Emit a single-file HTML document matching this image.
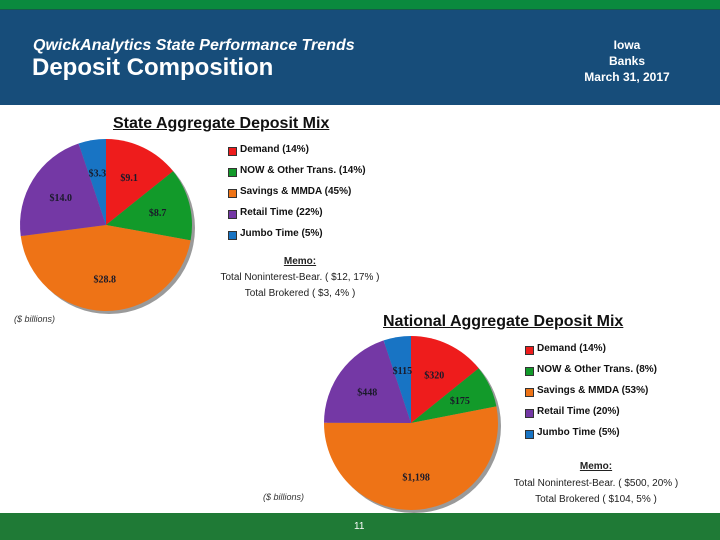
<!DOCTYPE html>
<html><head><meta charset="utf-8">
<style>
body{margin:0;width:720px;height:540px;overflow:hidden;background:#fff;font-family:"Liberation Sans",sans-serif;position:relative}
.abs{position:absolute;white-space:nowrap}
.sw{position:absolute;width:9px;height:9px;border:1px solid #333;box-sizing:border-box}
.lg{position:absolute;font-size:10px;font-weight:bold;color:#111;white-space:nowrap}
.memo{position:absolute;font-size:10px;color:#222;text-align:center;white-space:nowrap}
</style></head><body>
<div class="abs" style="left:0;top:0;width:720px;height:9px;background:#0a8a3e"></div>
<div class="abs" style="left:0;top:9px;width:720px;height:95px;background:#174d7a;border-top:1px solid #155a4a"></div>
<div class="abs" style="left:33px;top:37px;font-size:16px;font-style:italic;font-weight:bold;color:#fff">QwickAnalytics State Performance Trends</div>
<div class="abs" style="left:32px;top:54px;font-size:24px;font-weight:bold;color:#fff">Deposit Composition</div>
<div class="abs" style="left:567px;width:120px;text-align:center;top:37px;font-size:12px;font-weight:bold;color:#fff;line-height:16px">Iowa<br>Banks</div>
<div class="abs" style="left:567px;width:120px;text-align:center;top:70px;font-size:12px;font-weight:bold;color:#fff">March 31, 2017</div>

<div class="abs" style="left:113px;top:115px;font-size:16px;font-weight:bold;text-decoration:underline;color:#111">State Aggregate Deposit Mix</div>
<div class="abs" style="left:383px;top:313px;font-size:16px;font-weight:bold;text-decoration:underline;color:#111">National Aggregate Deposit Mix</div>

<svg id="pies" width="720" height="540" style="position:absolute;left:0;top:0"></svg>

<div id="legends"></div>

<div class="memo" style="left:200px;width:200px;top:254px;line-height:16px"><b style="text-decoration:underline">Memo:</b><br>Total Noninterest-Bear. ( $12, 17% )<br>Total Brokered ( $3, 4% )</div>
<div class="memo" style="left:496px;width:200px;top:459px;line-height:16.5px"><b style="text-decoration:underline">Memo:</b><br>Total Noninterest-Bear. ( $500, 20% )<br>Total Brokered ( $104, 5% )</div>
<div class="abs" style="left:14px;top:314px;font-size:9px;font-style:italic;color:#333">($ billions)</div>
<div class="abs" style="left:263px;top:492px;font-size:9px;font-style:italic;color:#333">($ billions)</div>

<div class="abs" style="left:0;top:513px;width:720px;height:27px;background:#1f7a36"></div>
<div class="abs" style="left:354px;top:521px;font-size:10px;color:#fff">11</div>

<script>
const categories = ["Demand", "NOW & Other Trans.", "Savings & MMDA", "Retail Time", "Jumbo Time"];
const stateValues = [9.1, 8.7, 28.8, 14.0, 3.3];
const stateLabels = ["$9.1", "$8.7", "$28.8", "$14.0", "$3.3"];
const statePct = ["14%", "14%", "45%", "22%", "5%"];
const nationalValues = [320, 175, 1198, 448, 115];
const nationalLabels = ["$320", "$175", "$1,198", "$448", "$115"];
const nationalPct = ["14%", "8%", "53%", "20%", "5%"];
const colors = ["#ee1c1c", "#129a2a", "#ee7316", "#7438a5", "#1874c4"];

const NS = "http://www.w3.org/2000/svg";
const svg = document.getElementById('pies');
function pie(values, labels, cx, cy, r, prefix) {
  const sh = document.createElementNS(NS, 'circle');
  
  
  sh.setAttribute('cx', cx + 3); sh.setAttribute('cy', cy + 3); sh.setAttribute('r', r);
  sh.setAttribute('fill', '#9a9a9a');
  svg.appendChild(sh);
  const total = values.reduce((a, b) => a + b, 0);
  let acc = 0;
  values.forEach((v, i) => {
    const a0 = acc / total * 2 * Math.PI; acc += v;
    const a1 = acc / total * 2 * Math.PI;
    const x0 = cx + r * Math.sin(a0), y0 = cy - r * Math.cos(a0);
    const x1 = cx + r * Math.sin(a1), y1 = cy - r * Math.cos(a1);
    const large = (a1 - a0) > Math.PI ? 1 : 0;
    const p = document.createElementNS(NS, 'path');
    
    
    p.setAttribute('d', `M${cx},${cy} L${x0},${y0} A${r},${r} 0 ${large} 1 ${x1},${y1} Z`);
    p.setAttribute('fill', colors[i]);
    svg.appendChild(p);
    const am = (a0 + a1) / 2, lr = r * 0.62;
    const t = document.createElementNS(NS, 'text');
    
    
    t.setAttribute('x', cx + lr * Math.sin(am));
    t.setAttribute('y', cy - lr * Math.cos(am) + 4);
    t.setAttribute('text-anchor', 'middle');
    t.setAttribute('font-family', 'Liberation Serif, serif');
    t.setAttribute('font-weight', 'bold');
    t.setAttribute('font-size', '10');
    t.setAttribute('fill', '#1a1a2a');
    t.textContent = labels[i];
    svg.appendChild(t);
  });
}
pie(stateValues, stateLabels, 106, 225, 86, 'state');
pie(nationalValues, nationalLabels, 411, 423, 87, 'national');

const lg = document.getElementById('legends');
function legend(pcts, x, y0, step, prefix) {
  categories.forEach((c, i) => {
    const s = document.createElement('div');
    
    
    s.className = 'sw';
    s.style.left = x + 'px'; s.style.top = (y0 + i * step - 4) + 'px'; s.style.background = colors[i];
    lg.appendChild(s);
    const t = document.createElement('div');
    
    
    t.className = 'lg';
    t.style.left = (x + 12) + 'px'; t.style.top = (y0 + i * step - 7) + 'px';
    t.textContent = c + ' (' + pcts[i] + ')';
    lg.appendChild(t);
  });
}
legend(statePct, 228, 151, 21, 'state');
legend(nationalPct, 525, 350, 21, 'national');
</script>
</body></html>
